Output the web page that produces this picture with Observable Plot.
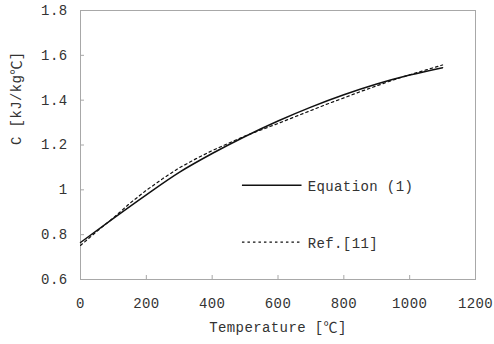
<!DOCTYPE html>
<html>
<head>
<meta charset="utf-8">
<script src="https://cdn.jsdelivr.net/npm/d3@7"></script>
<script src="https://cdn.jsdelivr.net/npm/@observablehq/plot@0.6"></script>
<style>
  html, body { margin: 0; padding: 0; background: #fff; }
  #chart svg { font-family: "Liberation Mono", "Noto Sans CJK JP", monospace; }
</style>
</head>
<body>
<div id="chart"></div>
<script>
// Temperature (°C)
const temps = [0, 100, 200, 300, 400, 500, 600, 700, 800, 900, 1000, 1100];
// Equation (1)
const eqValues = [0.765, 0.873, 0.978, 1.078, 1.162, 1.238, 1.307, 1.369, 1.424, 1.472, 1.512, 1.545];
// Ref.[11]
const refTemps = [0, 50, 100, 150, 200, 250, 300, 350, 400, 450, 500, 550, 600, 650, 700, 750, 800, 850, 900, 950, 1000, 1050, 1100];
const refValues = [0.752, 0.815, 0.875, 0.94, 0.998, 1.05, 1.098, 1.138, 1.175, 1.208, 1.24, 1.268, 1.296, 1.325, 1.354, 1.383, 1.41, 1.438, 1.464, 1.49, 1.513, 1.535, 1.557];

const xTicks = [0, 200, 400, 600, 800, 1000, 1200];
const yTicks = [0.6, 0.8, 1.0, 1.2, 1.4, 1.6, 1.8];
const yTickLabels = ["0.6", "0.8", "1", "1.2", "1.4", "1.6", "1.8"];
const xLabel = "Temperature [℃]";
const yLabel = "C [kJ/kg℃]";
const legendNames = ["Equation (1)", "Ref.[11]"];

const eq = temps.map((t, i) => ({t, c: eqValues[i]}));
const ref = refTemps.map((t, i) => ({t, c: refValues[i]}));

// legend placement (data space)
const legend = [
  {name: legendNames[0], y: 1.02, dash: null, w: 1.5},
  {name: legendNames[1], y: 0.767, dash: "2.5,3", w: 1.2}
];
const legX1 = 492, legX2 = 673, legTextX = 690;

const fontSize = 14;
const tickFmt = d => yTickLabels[yTicks.indexOf(d)];

const chart = Plot.plot({
  width: 494,
  height: 344,
  marginLeft: 80,
  marginRight: 19,
  marginTop: 10,
  marginBottom: 65,
  style: {fontSize: fontSize + "px", color: "#222", letterSpacing: "0.4px", background: "#fff"},
  x: {domain: [0, 1200]},
  y: {domain: [0.6, 1.8]},
  marks: [
    Plot.frame({stroke: "#a8a8a8"}),
    Plot.axisX({ticks: xTicks, tickSize: -4, tickPadding: 23, stroke: "#a8a8a8", fill: "#333", tickFormat: d => String(d), label: null}),
    Plot.axisY({ticks: yTicks, tickSize: -4, tickPadding: 17, stroke: "#a8a8a8", fill: "#333", tickFormat: tickFmt, label: null}),
    Plot.line(ref, {x: "t", y: "c", stroke: "#111", strokeWidth: 1.2, strokeDasharray: "2.5,3"}),
    Plot.line(eq, {x: "t", y: "c", stroke: "#111", strokeWidth: 1.5, curve: "monotone-x"}),
    ...legend.map(l => Plot.ruleY([l.y], {x1: legX1, x2: legX2, stroke: "#111", strokeWidth: l.w, strokeDasharray: l.dash})),
    Plot.text(legend, {x: () => legTextX, y: "y", text: "name", textAnchor: "start", dy: 1, fill: "#333"}),
    Plot.text([xLabel], {frameAnchor: "bottom", dy: 52, fill: "#333"}),
    Plot.text([yLabel], {frameAnchor: "left", dx: -64, rotate: -90, fill: "#333"})
  ]
});
document.getElementById("chart").appendChild(chart);
</script>
</body>
</html>
